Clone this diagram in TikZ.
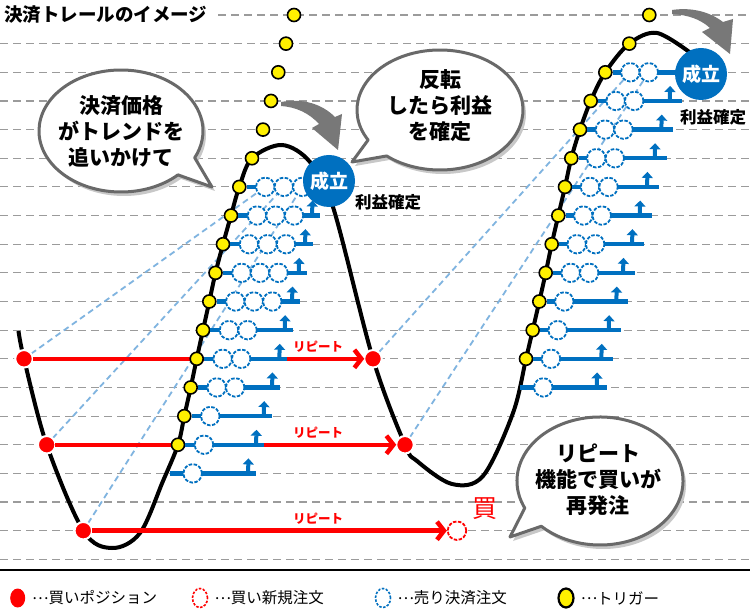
\documentclass[tikz,border=0pt]{standalone}
\usepackage{fontspec}
\setmainfont{Noto Sans CJK JP}
\usetikzlibrary{arrows.meta,positioning,shapes.geometric,backgrounds}

\definecolor{trailblue}{RGB}{0,112,192}
\definecolor{linkblue}{RGB}{128,180,224}
\definecolor{trigyellow}{RGB}{255,240,0}
\definecolor{gridgray}{RGB}{155,155,155}
\definecolor{saygray}{RGB}{105,105,105}
\definecolor{shadegray}{RGB}{200,200,200}
\definecolor{bendgray}{RGB}{120,120,120}

\newcommand{\legdots}{\raisebox{0.3em}{…}}

\tikzset{
  trigger/.style={circle,draw=black,fill=trigyellow,line width=1.6pt,inner sep=0pt,minimum size=13pt},
  buypos/.style={circle,draw=white,fill=red,line width=2pt,inner sep=0pt,outer sep=0pt,minimum size=17.5pt},
  buyorder/.style={circle,draw=red,dash pattern=on 3.5pt off 1.5pt,fill=white,line width=1.8pt,inner sep=0pt,minimum size=18.5pt},
  sellorder/.style={circle,draw=trailblue,dash pattern=on 3.5pt off 1.5pt,fill=white,line width=1.8pt,inner sep=0pt,minimum size=18.5pt},
  trail/.style={draw=trailblue,line width=4.5pt},
  rise/.style={draw=trailblue,line width=4pt,-{Triangle[length=6pt,width=11pt]}},
  repeatline/.style={draw=red,line width=4.5pt,-{Straight Barb[length=7pt,width=18pt]}},
  replabel/.style={text=red,inner sep=0pt,font=\fontsize{12.5}{14}\selectfont\bfseries},
  filled/.style={circle,fill=trailblue,text=white,inner sep=0pt,minimum size=52pt,font=\fontsize{19}{20}\selectfont\bfseries},
  gainlabel/.style={inner sep=0pt,font=\fontsize{16.5}{18}\selectfont\bfseries},
  saytext/.style={align=center,inner sep=0pt,font=\fontsize{21}{26}\selectfont\bfseries},
  sayframe/.style={draw=saygray,line width=3pt,fill=white,line join=round},
  gridline/.style={draw=gridgray,line width=1.2pt,dash pattern=on 8pt off 5pt},
  link/.style={draw=linkblue,line width=1.8pt,dash pattern=on 6pt off 4pt},
  legmark/.style={ellipse,inner sep=0pt,minimum width=15pt,minimum height=19pt,line width=1.6pt},
  legtext/.style={inner sep=0pt,font=\fontsize{15.5}{17}\selectfont}
}

\begin{document}
\begin{tikzpicture}[x=1pt,y=-1pt,declare function={gy(\r)=15+28.65*\r;}]
\useasboundingbox (0,0) rectangle (750,612);

\node[anchor=west,inner sep=0pt,font=\fontsize{18.5}{20}\selectfont\bfseries] (title) at (4,15) {決済トレールのイメージ};

% price curve
\draw[line width=4pt] plot[smooth,tension=0.55] coordinates {(18.5,331) (24,358.8) (46.7,444.75) (83.3,530.7) (112,548) (140,533) (163,481) (178,444.75) (184.3,416.1) (190.7,387.45) (196.7,358.8) (203,330.15) (209.3,301.5) (215.5,272.85) (223,244.2) (231,215.55) (239.3,186.9) (252,158.25) (282,145) (310,162) (333,207) (373,358.8) (405,444.75) (417,461) (452,484) (483,476) (513,413) (526,358.8) (532.7,330.15) (539.3,301.5) (545.7,272.85) (551.7,244.2) (558.3,215.55) (565,186.9) (571.3,158.25) (580,129.6) (590.7,100.95) (605.3,72.3) (629.3,43.65) (657,33) (692,54)};

% buy positions and repeat
\node[buypos] (pos1) at (24,{gy(12)}) {};
\node[buypos] (pos2) at (46.7,{gy(15)}) {};
\node[buypos] (pos3) at (83.3,{gy(18)}) {};
\node[buypos] (rep1) at (373,{gy(12)}) {};
\node[buypos] (rep2) at (405,{gy(15)}) {};
\node[buyorder] (rep3) at (457,{gy(18)}) {};
\draw[repeatline] (pos1) -- (rep1);
\draw[repeatline] (pos2) -- (rep2);
\draw[repeatline] (pos3) -- (rep3);
\node[replabel] (rl1) at (318,{gy(12)-12}) {リピート};
\node[replabel] (rl2) at (318,{gy(15)-12}) {リピート};
\node[replabel] (rl3) at (318,{gy(18)-12}) {リピート};
\node[text=red,inner sep=0pt,font=\fontsize{25}{26}\selectfont] (buy) at (485,509) {買};

% left trail
\foreach \r/\tx in {0/294,1/286,2/278.3,3/271,4/263,5/252}
  \node[trigger] (tl\r) at (\tx,{gy(\r)}) {};
\node[trigger] (tl6) at (239.3,{gy(6)}) {};
\coordinate (el6) at (329,{gy(6)});
\draw[trail] (tl6) -- (el6);
\foreach \j in {1,2,3}
  \node[sellorder] (lc6x\j) at ({239.3+26+18.5*(\j-1)},{gy(6)}) {};
\foreach \r/\tx/\nc/\ex in {7/231/3/320,8/223/3/313,9/215.5/3/306.7,10/209.3/3/300,11/203/2/292.7,12/196.7/2/287.3,13/190.7/2/280,14/184.3/1/271.7,15/178/1/264}{
  \node[trigger] (tl\r) at (\tx,{gy(\r)}) {};
  \coordinate (el\r) at (\ex,{gy(\r)});
  \draw[trail] (tl\r) -- (el\r);
  \foreach \j in {1,...,\nc}
    \node[sellorder] (lc\r x\j) at ({\tx+26+18.5*(\j-1)},{gy(\r)}) {};
  \draw[rise] ({\ex-8},{gy(\r)}) -- ++(0.5,-15);
}
\coordinate (sl16) at (170,{gy(16)});
\coordinate (el16) at (256,{gy(16)});
\draw[trail] (sl16) -- (el16);
\node[sellorder] (lc16x1) at (192.7,{gy(16)}) {};
\draw[rise] (248,{gy(16)}) -- ++(0.5,-15);

% right trail
\node[trigger] (tr0) at (649.3,{gy(0)}) {};
\node[trigger] (tr1) at (629.3,{gy(1)}) {};
\node[trigger] (tr2) at (605.3,{gy(2)}) {};
\coordinate (er2) at (701,{gy(2)});
\draw[trail] (tr2) -- (er2);
\foreach \j in {1,2}
  \node[sellorder] (rc2x\j) at ({605.3+25+18.5*(\j-1)},{gy(2)}) {};
\foreach \r/\tx/\nc/\ex in {3/590.7/2/681.7,4/580/2/673.3,5/571.3/2/666.7,6/565/2/659,7/558.3/2/651.7,8/551.7/2/644,9/545.7/2/635,10/539.3/1/628.3,11/532.7/1/620.7,12/526/1/613.3}{
  \node[trigger] (tr\r) at (\tx,{gy(\r)}) {};
  \coordinate (er\r) at (\ex,{gy(\r)});
  \draw[trail] (tr\r) -- (er\r);
  \foreach \j in {1,...,\nc}
    \node[sellorder] (rc\r x\j) at ({\tx+25+18.5*(\j-1)},{gy(\r)}) {};
  \draw[rise] ({\ex-12},{gy(\r)}) -- ++(0.5,-15);
}
\coordinate (sr13) at (520,{gy(13)});
\coordinate (er13) at (607.3,{gy(13)});
\draw[trail] (sr13) -- (er13);
\node[sellorder] (rc13x1) at (543.3,{gy(13)}) {};
\draw[rise] (596.7,{gy(13)}) -- ++(0.5,-15);

% filled orders
\node[filled] (done1) at (329,181) {成立};
\node[gainlabel] (gain1) at (388,202) {利益確定};
\node[filled] (done2) at (701,74) {成立};
\node[gainlabel] (gain2) at (713,117) {利益確定};

% bent arrows
\fill[bendgray] (281,102) .. controls (303,98) and (322,104) .. (335,117) -- (342,114) -- (338,150) -- (312,128) -- (319,124) .. controls (309,113) and (296,107) .. (281,106) -- cycle;
\fill[bendgray] (672,10) .. controls (692,7) and (710,12) .. (723,22) -- (733,19) -- (730,54) -- (702,32) -- (710,28) .. controls (700,19) and (688,15) .. (672,14) -- cycle;

% speech bubbles
\fill[shadegray] (124,135) ++(46:82 and 61) arc[start angle=46,end angle=386,x radius=82,y radius=61] -- (215,191) -- cycle;
\path[sayframe] (121,131) ++(46:82 and 61) arc[start angle=46,end angle=386,x radius=82,y radius=61] -- (212,187) -- cycle;
\node[saytext] (say1) at (121,131) {決済価格\\がトレンドを\\追いかけて};

\fill[shadegray] (443,114) ++(150:83 and 60) arc[start angle=150,end angle=490,x radius=83,y radius=60] -- (355,166) -- cycle;
\path[sayframe] (440,110) ++(150:83 and 60) arc[start angle=150,end angle=490,x radius=83,y radius=60] -- (352,162) -- cycle;
\node[saytext] (say2) at (440,106) {反転\\したら利益\\を確定};

\fill[shadegray] (603,485) ++(155:83 and 64) arc[start angle=155,end angle=495,x radius=83,y radius=64] -- (513,541) -- cycle;
\path[sayframe] (600,481) ++(155:83 and 64) arc[start angle=155,end angle=495,x radius=83,y radius=64] -- (510,537) -- cycle;
\node[saytext] (say3) at (598,480) {リピート\\機能で買いが\\再発注};

% legend
\draw[line width=1.5pt] (0,570) -- (750,570);
\node[legmark,fill=red] (lgpos) at (17.7,598) {};
\node[legtext,right=6pt of lgpos] (ltpos) {\legdots 買いポジション};
\node[legmark,draw=red,dash pattern=on 2.5pt off 1.5pt,fill=white] (lgbuy) at (200,598) {};
\node[legtext,right=6pt of lgbuy] (ltbuy) {\legdots 買い新規注文};
\node[legmark,draw=trailblue,dash pattern=on 2.5pt off 1.5pt,fill=white] (lgsell) at (383,598) {};
\node[legtext,right=6pt of lgsell] (ltsell) {\legdots 売り決済注文};
\node[legmark,draw=black,line width=2.2pt,fill=trigyellow] (lgtrig) at (566,598) {};
\node[legtext,right=6pt of lgtrig] (lttrig) {\legdots トリガー};

\begin{scope}[on background layer]
\fill[white] (0,0) rectangle (750,612);
\draw[gridline] (218,{gy(0)}) -- (750,{gy(0)});
\foreach \r in {1,...,19}
  \draw[gridline] (0,{gy(\r)}) -- (750,{gy(\r)});
\draw[link] (pos1) -- (lc6x1);
\draw[link] (pos2) -- (lc6x2);
\draw[link] (pos3) -- (lc6x3);
\draw[link] (rep1) -- (rc2x1);
\draw[link] (rep2) -- (rc2x2);
\end{scope}
\end{tikzpicture}
\end{document}
